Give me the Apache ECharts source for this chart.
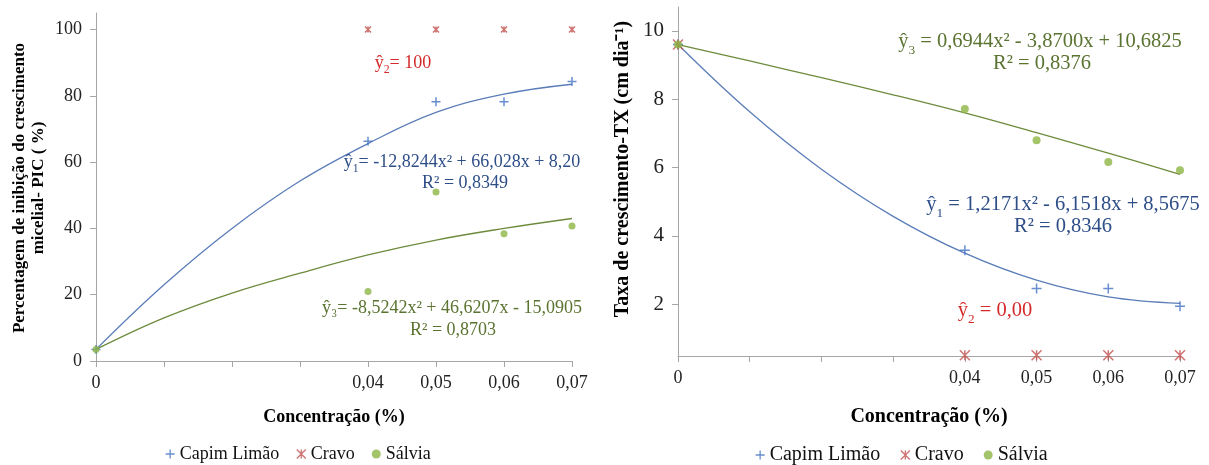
<!DOCTYPE html>
<html>
<head>
<meta charset="utf-8">
<script src="https://cdn.jsdelivr.net/npm/echarts@6/dist/echarts.min.js"></script>
<style>
  html, body { margin: 0; padding: 0; background: #fff; }
  #main { width: 1209px; height: 465px; }
</style>
</head>
<body>
<div id="main"></div>
<script>
  // concentracoes (%)
  const concentracao = [0, 0.04, 0.05, 0.06, 0.07];
  const eixoTicks = [0, 0.01, 0.02, 0.03, 0.04, 0.05, 0.06, 0.07];
  const eixoLabels = [0, 0.04, 0.05, 0.06, 0.07];

  // PIC (%) - grafico da esquerda
  const picCapim = [3.5, 66.3, 78.2, 78.2, 84.3];
  const picCravo = [null, 100, 100, 100, 100];
  const picSalvia = [3.5, 21, 51, 38.4, 40.7];
  const picCapimCurva = [3.5, 23, 40, 54.3, 65.6, 75, 80.5, 83.5];
  const picSalviaCurva = [3.5, 13, 20.5, 26.5, 32, 36.5, 40, 43];

  // TX (cm dia-1) - grafico da direita
  const txCapim = [9.6, 3.58, 2.46, 2.46, 1.94];
  const txCravo = [9.6, 0.5, 0.5, 0.5, 0.5];
  const txSalvia = [9.6, 7.71, 6.8, 6.16, 5.92];
  const txCapimCurva = [9.6, 7.63, 5.95, 4.57, 3.49, 2.7, 2.21, 2.02];
  const txSalviaCurva = [9.6, 9.12, 8.63, 8.13, 7.6, 7.02, 6.42, 5.8];

  const azul = '#4472C4';
  const vermelho = '#C0504D';
  const verde = '#8DB545';
  const serif = 'Liberation Serif';
  const plusPath = 'path://M5,0L5,10M0,5L10,5';
  const starPath = 'path://M0,0L10,10M10,0L0,10M5,0L5,10';

  function pares(xs, ys) {
    let out = [];
    xs.forEach((x, i) => { if (ys[i] != null) out.push([x, ys[i]]); });
    return out;
  }
  function fmt(v) {
    return v === 0 ? '0' : v.toFixed(2).replace('.', ',');
  }

  let myChart = echarts.init(document.getElementById('main'));

  function xAxisDe(gridIndex, nameSize, gap) {
    return {
      type: 'value', gridIndex: gridIndex, min: 0, max: 0.07,
      name: 'Concentração (%)', nameLocation: 'middle', nameGap: gap,
      nameTextStyle: { fontFamily: serif, fontWeight: 'bold', fontSize: nameSize, color: '#000' },
      axisLine: { lineStyle: { color: '#a6a6a6' } },
      axisTick: { show: true, length: 6, customValues: eixoTicks, lineStyle: { color: '#a6a6a6' } },
      axisLabel: { customValues: eixoLabels, formatter: fmt, fontFamily: serif, fontSize: 18, color: '#222', margin: 13 },
      splitLine: { show: false }
    };
  }

  function pontos(name, xi, data, symbol, size, color, stroke) {
    return {
      name: name, type: 'scatter', xAxisIndex: xi, yAxisIndex: xi,
      symbol: symbol, symbolSize: size, data: data,
      itemStyle: stroke
        ? { color: 'transparent', borderColor: color, borderWidth: 1.5 }
        : { color: color },
      z: 5
    };
  }

  function curva(name, xi, ys, color) {
    return {
      name: name, type: 'line', xAxisIndex: xi, yAxisIndex: xi,
      data: pares(eixoTicks, ys), smooth: 0.4, showSymbol: false, silent: true,
      lineStyle: { color: color, width: 1.3 }, z: 3
    };
  }

  function legenda(left, size, gap) {
    return {
      left: left, top: 440, itemGap: gap, itemWidth: 9, itemHeight: 9,
      formatter: '{t|{name}}',
      textStyle: {
        fontFamily: serif, fontSize: size, color: '#111',
        rich: { t: { fontFamily: serif, fontSize: size, color: '#111' } }
      },
      data: [
        { name: 'Capim Limão', icon: plusPath, itemStyle: { color: 'transparent', borderColor: azul, borderWidth: 1.3 } },
        { name: 'Cravo', icon: starPath, itemStyle: { color: 'transparent', borderColor: vermelho, borderWidth: 1.3 } },
        { name: 'Sálvia', icon: 'circle', itemStyle: { color: verde } }
      ]
    };
  }

  function eq(x, y, txt, cor, size) {
    return {
      type: 'text', x: x, y: y, z: 20,
      style: {
        text: txt, fill: cor, fontFamily: serif, fontSize: size,
        align: 'center', verticalAlign: 'middle',
        rich: { s: { fontSize: size * 0.65, fontFamily: serif, fill: cor, verticalAlign: 'bottom', padding: [0, 0, -4, 0] } }
      }
    };
  }

  const azulTxt = '#2E4E88';
  const verdeTxt = '#5A7330';
  const vermTxt = '#D42A2A';

  let options = {
    animation: false,
    backgroundColor: '#fff',
    textStyle: { fontFamily: serif },
    grid: [
      { left: 96, top: 13, width: 476, height: 348 },
      { left: 678, top: 7, width: 502, height: 349 }
    ],
    xAxis: [xAxisDe(0, 18, 47), xAxisDe(1, 20, 51)],
    yAxis: [
      {
        type: 'value', gridIndex: 0, min: 0, max: 105, interval: 20,
        axisLine: { show: true, lineStyle: { color: '#a6a6a6' } },
        axisTick: { show: true, length: 6, lineStyle: { color: '#a6a6a6' } },
        axisLabel: { fontFamily: serif, fontSize: 18, color: '#222', margin: 14 },
        splitLine: { show: false }
      },
      {
        type: 'value', gridIndex: 1, min: 0.48, max: 10.7,
        axisLine: { show: true, lineStyle: { color: '#a6a6a6' } },
        axisTick: { show: true, length: 6, customValues: [2, 4, 6, 8, 10], lineStyle: { color: '#a6a6a6' } },
        axisLabel: { customValues: [2, 4, 6, 8, 10], fontFamily: serif, fontSize: 21, color: '#222', margin: 14 },
        splitLine: { show: false }
      }
    ],
    legend: [legenda(160, 18, 17), legenda(750, 20, 20)],
    graphic: [
      {
        type: 'text', x: 29, y: 188, rotation: Math.PI / 2,
        style: {
          text: 'Percentagem de inibição do crescimento\nmicelial- PIC ( %)',
          fontFamily: serif, fontWeight: 'bold', fontSize: 17, lineHeight: 19,
          fill: '#000', align: 'center', verticalAlign: 'middle'
        }
      },
      {
        type: 'text', x: 623, y: 169, rotation: Math.PI / 2,
        style: {
          text: 'Taxa de crescimento-TX (cm dia⁻¹)',
          fontFamily: serif, fontWeight: 'bold', fontSize: 20,
          fill: '#000', align: 'center', verticalAlign: 'middle'
        }
      },
      // equacoes - esquerda
      eq(403, 63, 'ŷ{s|2}= 100', vermTxt, 18),
      eq(462, 162, 'ŷ{s|1}= -12,8244x² + 66,028x + 8,20', azulTxt, 18),
      eq(465, 183, 'R² = 0,8349', azulTxt, 18),
      {
        type: 'text', x: 322, y: 308, z: 20,
        style: {
          text: 'ŷ₃= -8,5242x² + 46,6207x - 15,0905', fill: verdeTxt, fontFamily: serif, fontSize: 18,
          align: 'left', verticalAlign: 'middle', width: 262, overflow: 'truncate', ellipsis: ''
        }
      },
      eq(453, 330, 'R² = 0,8703', verdeTxt, 18),
      // equacoes - direita
      eq(1040, 42, 'ŷ{s|3} = 0,6944x² - 3,8700x + 10,6825', verdeTxt, 20.5),
      eq(1042, 64, 'R² = 0,8376', verdeTxt, 20.5),
      eq(1063, 205, 'ŷ{s|1} = 1,2171x² - 6,1518x + 8,5675', azulTxt, 20.5),
      eq(1063, 227, 'R² = 0,8346', azulTxt, 20.5),
      eq(995, 311, 'ŷ{s|2} = 0,00', vermTxt, 20.5)
    ],
    series: [
      curva('curva capim pic', 0, picCapimCurva, '#5B7DB8'),
      curva('curva salvia pic', 0, picSalviaCurva, '#6E8B3D'),
      pontos('Capim Limão', 0, pares(concentracao, picCapim), plusPath, 9, azul, true),
      pontos('Cravo', 0, pares(concentracao, picCravo), starPath, 6, vermelho, true),
      pontos('Sálvia', 0, pares(concentracao, picSalvia), 'circle', 7, verde, false),

      curva('curva capim tx', 1, txCapimCurva, '#5B7DB8'),
      curva('curva salvia tx', 1, txSalviaCurva, '#6E8B3D'),
      pontos('Capim Limão', 1, pares(concentracao, txCapim), plusPath, 10, azul, true),
      pontos('Cravo', 1, pares(concentracao, txCravo), starPath, 10, vermelho, true),
      pontos('Sálvia', 1, pares(concentracao, txSalvia), 'circle', 8, verde, false)
    ]
  };
  myChart.setOption(options);
</script>
</body>
</html>
